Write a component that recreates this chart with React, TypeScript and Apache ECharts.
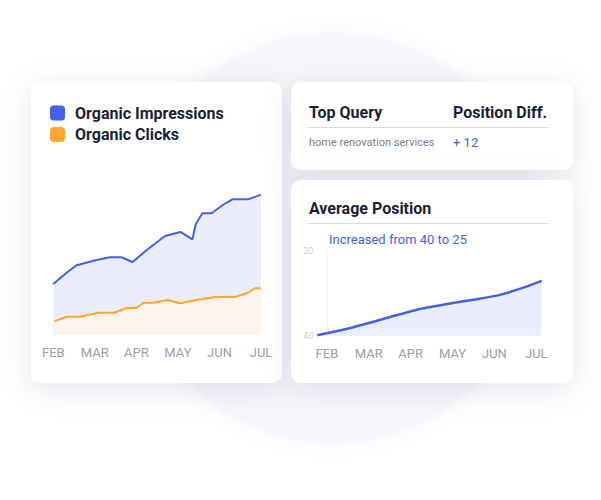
import React, { useEffect, useRef } from "react";
import * as echarts from "echarts";

const months = ["FEB", "MAR", "APR", "MAY", "JUN", "JUL"];

// [month position (0 = FEB), value]
const impressions: [number, number][] = [
  [0, 31.9], [0.32, 38.9], [0.56, 43.6], [1.04, 46.9], [1.36, 48.6], [1.64, 48.6],
  [1.91, 45.6], [2.25, 53.1], [2.69, 61.9], [3.06, 64.4], [3.35, 59.8], [3.43, 69.4],
  [3.59, 76.1], [3.81, 76.1], [4.09, 81.4], [4.31, 84.8], [4.69, 84.8], [5, 87.7],
];
const clicks: [number, number][] = [
  [0.03, 8.6], [0.32, 11.4], [0.64, 11.4], [1.08, 13.9], [1.46, 13.9], [1.76, 16.9],
  [1.99, 16.9], [2.18, 20.2], [2.4, 20.2], [2.75, 21.9], [3.06, 19.8], [3.53, 22.3],
  [3.89, 23.8], [4.37, 23.8], [4.69, 26.4], [4.85, 29.2], [5, 29.2],
];
const avgPosition: [number, number][] = [
  [-0.23, 39.9], [0.63, 38.0], [1.51, 35.6], [2.22, 33.7], [2.94, 32.4],
  [3.58, 31.4], [4.13, 30.4], [4.69, 28.7], [5.13, 27.1],
];
const positionTicks = [20, 40];

const FONT = "Roboto, 'Noto Sans', sans-serif";
const DARK = "#1a1f36";
const BLUE = "#4361e8";

export default function App() {
  const ref = useRef<HTMLDivElement>(null);
  useEffect(() => {
    if (!ref.current) return;
    const chart = echarts.init(ref.current, undefined, { renderer: "svg" });
    const card = (x: number, y: number, w: number, h: number) => ({
      type: "rect",
      z: -20,
      shape: { x, y, width: w, height: h, r: 10 },
      style: {
        fill: "#ffffff",
        shadowBlur: 30,
        shadowOffsetY: 6,
        shadowColor: "rgba(25,35,80,0.10)",
      },
    });
    const txt = (
      text: string,
      x: number,
      y: number,
      size: number,
      fill: string,
      weight: string = "normal"
    ) => ({
      type: "text",
      z: -10,
      x,
      y,
      style: {
        text,
        fill,
        font: `${weight} ${size}px ${FONT}`,
        textVerticalAlign: "middle",
        textAlign: "left",
      },
    });
    chart.setOption({
      animation: false,
      backgroundColor: "#ffffff",
      textStyle: { fontFamily: FONT },
      graphic: [
        {
          type: "circle",
          z: -30,
          shape: { cx: 333, cy: 238, r: 205 },
          style: {
            fill: "#f6f7fb",
            shadowBlur: 24,
            shadowColor: "#f6f7fb",
          },
        },
        card(31, 82, 251, 301),
        card(291, 82, 282, 88),
        card(291, 180, 282, 203),
        txt("Top Query", 309, 112, 16, DARK, "bold"),
        txt("Position Diff.", 453, 112, 16, DARK, "bold"),
        {
          type: "line",
          z: -10,
          shape: { x1: 308, y1: 127.5, x2: 548, y2: 127.5 },
          style: { stroke: "#d9d9de", lineWidth: 1 },
        },
        txt("home renovation services", 309, 142.5, 11, "#7c7c86"),
        txt("+ 12", 453, 142.5, 13, BLUE),
        txt("Average Position", 309, 208, 16, DARK, "bold"),
        {
          type: "line",
          z: -10,
          shape: { x1: 308, y1: 223.5, x2: 548, y2: 223.5 },
          style: { stroke: "#d9d9de", lineWidth: 1 },
        },
        txt("Increased from 40 to 25", 329, 239, 13, BLUE),
      ],
      legend: {
        data: ["Organic Impressions", "Organic Clicks"],
        orient: "vertical",
        left: 50,
        top: 105,
        padding: 0,
        itemWidth: 15,
        itemHeight: 15,
        itemGap: 5.5,
        icon: "roundRect",
        selectedMode: false,
        textStyle: {
          color: DARK,
          fontSize: 16,
          fontWeight: "bold",
          fontFamily: FONT,
          lineHeight: 15,
          padding: [0, 0, 0, 5],
        },
      },
      grid: [
        { left: 53.3, right: 340, top: 175, bottom: 165 },
        { left: 317.3, right: 59.3, top: 250.7, bottom: 164.3 },
      ],
      xAxis: [
        {
          type: "value",
          gridIndex: 0,
          min: 0,
          max: 5,
          interval: 1,
          axisLine: { show: false },
          axisTick: { show: false },
          splitLine: { show: false },
          axisLabel: {
            color: "#9d9da6",
            fontSize: 13,
            margin: 11,
            fontFamily: FONT,
            formatter: (v: number) => months[Math.round(v)] ?? "",
          },
        },
        {
          type: "value",
          gridIndex: 1,
          min: -0.23,
          max: 5.13,
          axisLine: { show: false },
          axisTick: { show: false },
          splitLine: { show: false },
          axisLabel: {
            color: "#9d9da6",
            fontSize: 13,
            margin: 11,
            fontFamily: FONT,
            customValues: [0, 1, 2, 3, 4, 5],
            formatter: (v: number) => months[Math.round(v)] ?? "",
          },
        },
      ],
      yAxis: [
        {
          type: "value",
          gridIndex: 0,
          min: 0,
          max: 100,
          show: false,
        },
        {
          type: "value",
          gridIndex: 1,
          inverse: true,
          min: 20,
          max: 40,
          interval: 20,
          axisLine: { show: true, lineStyle: { color: "#f0f0f3", width: 1 } },
          axisTick: { show: false },
          splitLine: { show: false },
          axisLabel: {
            color: "#cfcfd4",
            fontSize: 9,
            margin: 4,
            fontFamily: FONT,
            customValues: positionTicks,
          },
        },
      ],
      series: [
        {
          name: "Organic Impressions",
          type: "line",
          xAxisIndex: 0,
          yAxisIndex: 0,
          data: impressions,
          showSymbol: false,
          itemStyle: { color: BLUE },
          lineStyle: { color: BLUE, width: 2 },
          areaStyle: { color: "#eaeefc", opacity: 1 },
          z: 2,
        },
        {
          name: "Organic Clicks",
          type: "line",
          xAxisIndex: 0,
          yAxisIndex: 0,
          data: clicks,
          showSymbol: false,
          itemStyle: { color: "#ffa62b" },
          lineStyle: { color: "#ffa62b", width: 2 },
          areaStyle: { color: "#fdf4ec", opacity: 1 },
          z: 3,
        },
        {
          name: "Average Position",
          type: "line",
          xAxisIndex: 1,
          yAxisIndex: 1,
          data: avgPosition,
          showSymbol: false,
          smooth: 0.2,
          itemStyle: { color: BLUE },
          lineStyle: { color: BLUE, width: 2.5 },
          areaStyle: { color: "#eaeefc", opacity: 1, origin: "end" },
        },
      ],
    });
    return () => chart.dispose();
  }, []);
  return (
    <div
      ref={ref}
      style={{ position: "fixed", left: 0, top: 0, width: 601, height: 500 }}
    />
  );
}
